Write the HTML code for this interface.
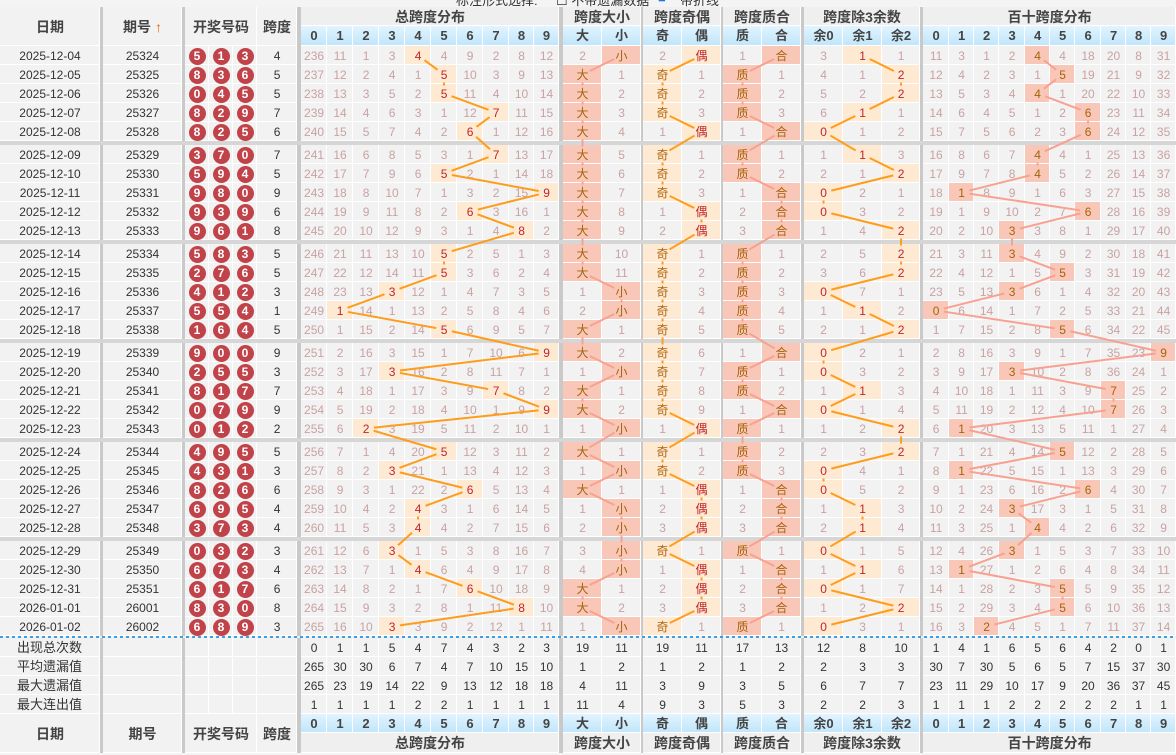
<!DOCTYPE html>
<html><head><meta charset="utf-8"><style>
body{margin:0;background:#f4f4f4;width:1176px;height:755px;overflow:hidden;font-family:"Liberation Sans","Noto Sans CJK SC",sans-serif}
#top{position:absolute;left:0;top:0;width:1176px;height:7px;overflow:hidden;font-size:13px;color:#333}
#top span{position:absolute;top:-10px;white-space:nowrap}
#wrap{position:absolute;left:0;top:7px;width:1176px}
table{border-collapse:separate;border-spacing:0;table-layout:fixed;width:1176px}
td{padding:0;text-align:center;font-size:12px;height:19px;line-height:18px;background:#f2f2f2;box-shadow:inset -1px -1px 0 #fff;overflow:hidden;white-space:nowrap;color:#333}
td.s{background:#c9c9c9;box-shadow:none}
.H td{font-weight:bold;color:#444}
.H .g{font-size:14px;background:#efefef}
.H .u{background:linear-gradient(#e2f4ff,#bfe5fa);font-size:13px}
.H .L{font-size:14px}
tr.r td{color:#c9a2a2}
tr.r td.k{color:#333}
td.q b{display:inline-block;width:17px;height:17px;border-radius:50%;background:#c1434a;color:#fff;font-size:12px;line-height:17px;margin-top:1px}
tr.r td.a{background:#fee9d2;color:#c0262a}
tr.r td.b{background:#f9c7b8;color:#a8620a}
tr.r td.c{background:#fee9d2;color:#b0650d}
tr.gs td{height:4px;background:#d6d6d6;box-shadow:none}
tr.dl td{height:2px;box-shadow:none;background:repeating-linear-gradient(90deg,#3d9ee0 0 3px,#f2f2f2 3px 6px)}
tr.st td{color:#333}
tr.st td.lb{font-size:13px;text-align:left;padding-left:17px}
svg{position:absolute;left:0;top:0;pointer-events:none}
</style></head><body>
<div id="top"><span style="left:456px">标注形式选择:</span><span style="left:556px">☐ 不带遗漏数据</span><span style="left:658px;color:#1a73e8">■</span><span style="left:680px">带折线</span></div>
<div id="wrap">
<table id="tb">
<colgroup><col style="width:100px"><col style="width:3px"><col style="width:79px"><col style="width:3px"><col style="width:24px"><col style="width:24px"><col style="width:24px"><col style="width:40px"><col style="width:4px"><col style="width:26px"><col style="width:26px"><col style="width:26px"><col style="width:26px"><col style="width:26px"><col style="width:26px"><col style="width:26px"><col style="width:26px"><col style="width:25px"><col style="width:25px"><col style="width:4px"><col style="width:39px"><col style="width:39px"><col style="width:2px"><col style="width:39px"><col style="width:39px"><col style="width:2px"><col style="width:39px"><col style="width:39px"><col style="width:3px"><col style="width:39px"><col style="width:39px"><col style="width:38px"><col style="width:3px"><col style="width:26px"><col style="width:25px"><col style="width:25px"><col style="width:26px"><col style="width:25px"><col style="width:25px"><col style="width:26px"><col style="width:25px"><col style="width:25px"><col style="width:25px"></colgroup>
<tr class="H"><td rowspan="2" class="L">日期</td><td rowspan="2" class="s"></td><td rowspan="2" class="L">期号 <span style="color:#e8650a">↑</span></td><td rowspan="2" class="s"></td><td rowspan="2" colspan="3" class="L">开奖号码</td><td rowspan="2" class="L">跨度</td><td rowspan="2" class="s"></td><td colspan="10" class="g">总跨度分布</td><td rowspan="2" class="s"></td><td colspan="2" class="g">跨度大小</td><td rowspan="2" class="s"></td><td colspan="2" class="g">跨度奇偶</td><td rowspan="2" class="s"></td><td colspan="2" class="g">跨度质合</td><td rowspan="2" class="s"></td><td colspan="3" class="g">跨度除3余数</td><td rowspan="2" class="s"></td><td colspan="10" class="g">百十跨度分布</td></tr>
<tr class="H" style="height:20px"><td class="u">0</td><td class="u">1</td><td class="u">2</td><td class="u">3</td><td class="u">4</td><td class="u">5</td><td class="u">6</td><td class="u">7</td><td class="u">8</td><td class="u">9</td><td class="u">大</td><td class="u">小</td><td class="u">奇</td><td class="u">偶</td><td class="u">质</td><td class="u">合</td><td class="u">余0</td><td class="u">余1</td><td class="u">余2</td><td class="u">0</td><td class="u">1</td><td class="u">2</td><td class="u">3</td><td class="u">4</td><td class="u">5</td><td class="u">6</td><td class="u">7</td><td class="u">8</td><td class="u">9</td></tr>

<tr class="r"><td class="k">2025-12-04</td><td class="s"></td><td class="k">25324</td><td class="s"></td><td class="q"><b>5</b></td><td class="q"><b>1</b></td><td class="q"><b>3</b></td><td class="k">4</td><td class="s"></td><td>236</td><td>11</td><td>1</td><td>3</td><td class="a t">4</td><td>4</td><td>9</td><td>2</td><td>8</td><td>12</td><td class="s"></td><td>2</td><td class="b z">小</td><td class="s"></td><td>2</td><td class="a j">偶</td><td class="s"></td><td>1</td><td class="b h">合</td><td class="s"></td><td>3</td><td class="a y">1</td><td>1</td><td class="s"></td><td>11</td><td>3</td><td>1</td><td>2</td><td class="b w">4</td><td>4</td><td>18</td><td>20</td><td>8</td><td>31</td></tr>
<tr class="r"><td class="k">2025-12-05</td><td class="s"></td><td class="k">25325</td><td class="s"></td><td class="q"><b>8</b></td><td class="q"><b>3</b></td><td class="q"><b>6</b></td><td class="k">5</td><td class="s"></td><td>237</td><td>12</td><td>2</td><td>4</td><td>1</td><td class="a t">5</td><td>10</td><td>3</td><td>9</td><td>13</td><td class="s"></td><td class="b z">大</td><td>1</td><td class="s"></td><td class="c j">奇</td><td>1</td><td class="s"></td><td class="b h">质</td><td>1</td><td class="s"></td><td>4</td><td>1</td><td class="a y">2</td><td class="s"></td><td>12</td><td>4</td><td>2</td><td>3</td><td>1</td><td class="b w">5</td><td>19</td><td>21</td><td>9</td><td>32</td></tr>
<tr class="r"><td class="k">2025-12-06</td><td class="s"></td><td class="k">25326</td><td class="s"></td><td class="q"><b>0</b></td><td class="q"><b>4</b></td><td class="q"><b>5</b></td><td class="k">5</td><td class="s"></td><td>238</td><td>13</td><td>3</td><td>5</td><td>2</td><td class="a t">5</td><td>11</td><td>4</td><td>10</td><td>14</td><td class="s"></td><td class="b z">大</td><td>2</td><td class="s"></td><td class="c j">奇</td><td>2</td><td class="s"></td><td class="b h">质</td><td>2</td><td class="s"></td><td>5</td><td>2</td><td class="a y">2</td><td class="s"></td><td>13</td><td>5</td><td>3</td><td>4</td><td class="b w">4</td><td>1</td><td>20</td><td>22</td><td>10</td><td>33</td></tr>
<tr class="r"><td class="k">2025-12-07</td><td class="s"></td><td class="k">25327</td><td class="s"></td><td class="q"><b>8</b></td><td class="q"><b>2</b></td><td class="q"><b>9</b></td><td class="k">7</td><td class="s"></td><td>239</td><td>14</td><td>4</td><td>6</td><td>3</td><td>1</td><td>12</td><td class="a t">7</td><td>11</td><td>15</td><td class="s"></td><td class="b z">大</td><td>3</td><td class="s"></td><td class="c j">奇</td><td>3</td><td class="s"></td><td class="b h">质</td><td>3</td><td class="s"></td><td>6</td><td class="a y">1</td><td>1</td><td class="s"></td><td>14</td><td>6</td><td>4</td><td>5</td><td>1</td><td>2</td><td class="b w">6</td><td>23</td><td>11</td><td>34</td></tr>
<tr class="r"><td class="k">2025-12-08</td><td class="s"></td><td class="k">25328</td><td class="s"></td><td class="q"><b>8</b></td><td class="q"><b>2</b></td><td class="q"><b>5</b></td><td class="k">6</td><td class="s"></td><td>240</td><td>15</td><td>5</td><td>7</td><td>4</td><td>2</td><td class="a t">6</td><td>1</td><td>12</td><td>16</td><td class="s"></td><td class="b z">大</td><td>4</td><td class="s"></td><td>1</td><td class="a j">偶</td><td class="s"></td><td>1</td><td class="b h">合</td><td class="s"></td><td class="a y">0</td><td>1</td><td>2</td><td class="s"></td><td>15</td><td>7</td><td>5</td><td>6</td><td>2</td><td>3</td><td class="b w">6</td><td>24</td><td>12</td><td>35</td></tr>
<tr class="gs"><td colspan="43"></td></tr>
<tr class="r"><td class="k">2025-12-09</td><td class="s"></td><td class="k">25329</td><td class="s"></td><td class="q"><b>3</b></td><td class="q"><b>7</b></td><td class="q"><b>0</b></td><td class="k">7</td><td class="s"></td><td>241</td><td>16</td><td>6</td><td>8</td><td>5</td><td>3</td><td>1</td><td class="a t">7</td><td>13</td><td>17</td><td class="s"></td><td class="b z">大</td><td>5</td><td class="s"></td><td class="c j">奇</td><td>1</td><td class="s"></td><td class="b h">质</td><td>1</td><td class="s"></td><td>1</td><td class="a y">1</td><td>3</td><td class="s"></td><td>16</td><td>8</td><td>6</td><td>7</td><td class="b w">4</td><td>4</td><td>1</td><td>25</td><td>13</td><td>36</td></tr>
<tr class="r"><td class="k">2025-12-10</td><td class="s"></td><td class="k">25330</td><td class="s"></td><td class="q"><b>5</b></td><td class="q"><b>9</b></td><td class="q"><b>4</b></td><td class="k">5</td><td class="s"></td><td>242</td><td>17</td><td>7</td><td>9</td><td>6</td><td class="a t">5</td><td>2</td><td>1</td><td>14</td><td>18</td><td class="s"></td><td class="b z">大</td><td>6</td><td class="s"></td><td class="c j">奇</td><td>2</td><td class="s"></td><td class="b h">质</td><td>2</td><td class="s"></td><td>2</td><td>1</td><td class="a y">2</td><td class="s"></td><td>17</td><td>9</td><td>7</td><td>8</td><td class="b w">4</td><td>5</td><td>2</td><td>26</td><td>14</td><td>37</td></tr>
<tr class="r"><td class="k">2025-12-11</td><td class="s"></td><td class="k">25331</td><td class="s"></td><td class="q"><b>9</b></td><td class="q"><b>8</b></td><td class="q"><b>0</b></td><td class="k">9</td><td class="s"></td><td>243</td><td>18</td><td>8</td><td>10</td><td>7</td><td>1</td><td>3</td><td>2</td><td>15</td><td class="a t">9</td><td class="s"></td><td class="b z">大</td><td>7</td><td class="s"></td><td class="c j">奇</td><td>3</td><td class="s"></td><td>1</td><td class="b h">合</td><td class="s"></td><td class="a y">0</td><td>2</td><td>1</td><td class="s"></td><td>18</td><td class="b w">1</td><td>8</td><td>9</td><td>1</td><td>6</td><td>3</td><td>27</td><td>15</td><td>38</td></tr>
<tr class="r"><td class="k">2025-12-12</td><td class="s"></td><td class="k">25332</td><td class="s"></td><td class="q"><b>9</b></td><td class="q"><b>3</b></td><td class="q"><b>9</b></td><td class="k">6</td><td class="s"></td><td>244</td><td>19</td><td>9</td><td>11</td><td>8</td><td>2</td><td class="a t">6</td><td>3</td><td>16</td><td>1</td><td class="s"></td><td class="b z">大</td><td>8</td><td class="s"></td><td>1</td><td class="a j">偶</td><td class="s"></td><td>2</td><td class="b h">合</td><td class="s"></td><td class="a y">0</td><td>3</td><td>2</td><td class="s"></td><td>19</td><td>1</td><td>9</td><td>10</td><td>2</td><td>7</td><td class="b w">6</td><td>28</td><td>16</td><td>39</td></tr>
<tr class="r"><td class="k">2025-12-13</td><td class="s"></td><td class="k">25333</td><td class="s"></td><td class="q"><b>9</b></td><td class="q"><b>6</b></td><td class="q"><b>1</b></td><td class="k">8</td><td class="s"></td><td>245</td><td>20</td><td>10</td><td>12</td><td>9</td><td>3</td><td>1</td><td>4</td><td class="a t">8</td><td>2</td><td class="s"></td><td class="b z">大</td><td>9</td><td class="s"></td><td>2</td><td class="a j">偶</td><td class="s"></td><td>3</td><td class="b h">合</td><td class="s"></td><td>1</td><td>4</td><td class="a y">2</td><td class="s"></td><td>20</td><td>2</td><td>10</td><td class="b w">3</td><td>3</td><td>8</td><td>1</td><td>29</td><td>17</td><td>40</td></tr>
<tr class="gs"><td colspan="43"></td></tr>
<tr class="r"><td class="k">2025-12-14</td><td class="s"></td><td class="k">25334</td><td class="s"></td><td class="q"><b>5</b></td><td class="q"><b>8</b></td><td class="q"><b>3</b></td><td class="k">5</td><td class="s"></td><td>246</td><td>21</td><td>11</td><td>13</td><td>10</td><td class="a t">5</td><td>2</td><td>5</td><td>1</td><td>3</td><td class="s"></td><td class="b z">大</td><td>10</td><td class="s"></td><td class="c j">奇</td><td>1</td><td class="s"></td><td class="b h">质</td><td>1</td><td class="s"></td><td>2</td><td>5</td><td class="a y">2</td><td class="s"></td><td>21</td><td>3</td><td>11</td><td class="b w">3</td><td>4</td><td>9</td><td>2</td><td>30</td><td>18</td><td>41</td></tr>
<tr class="r"><td class="k">2025-12-15</td><td class="s"></td><td class="k">25335</td><td class="s"></td><td class="q"><b>2</b></td><td class="q"><b>7</b></td><td class="q"><b>6</b></td><td class="k">5</td><td class="s"></td><td>247</td><td>22</td><td>12</td><td>14</td><td>11</td><td class="a t">5</td><td>3</td><td>6</td><td>2</td><td>4</td><td class="s"></td><td class="b z">大</td><td>11</td><td class="s"></td><td class="c j">奇</td><td>2</td><td class="s"></td><td class="b h">质</td><td>2</td><td class="s"></td><td>3</td><td>6</td><td class="a y">2</td><td class="s"></td><td>22</td><td>4</td><td>12</td><td>1</td><td>5</td><td class="b w">5</td><td>3</td><td>31</td><td>19</td><td>42</td></tr>
<tr class="r"><td class="k">2025-12-16</td><td class="s"></td><td class="k">25336</td><td class="s"></td><td class="q"><b>4</b></td><td class="q"><b>1</b></td><td class="q"><b>2</b></td><td class="k">3</td><td class="s"></td><td>248</td><td>23</td><td>13</td><td class="a t">3</td><td>12</td><td>1</td><td>4</td><td>7</td><td>3</td><td>5</td><td class="s"></td><td>1</td><td class="b z">小</td><td class="s"></td><td class="c j">奇</td><td>3</td><td class="s"></td><td class="b h">质</td><td>3</td><td class="s"></td><td class="a y">0</td><td>7</td><td>1</td><td class="s"></td><td>23</td><td>5</td><td>13</td><td class="b w">3</td><td>6</td><td>1</td><td>4</td><td>32</td><td>20</td><td>43</td></tr>
<tr class="r"><td class="k">2025-12-17</td><td class="s"></td><td class="k">25337</td><td class="s"></td><td class="q"><b>5</b></td><td class="q"><b>5</b></td><td class="q"><b>4</b></td><td class="k">1</td><td class="s"></td><td>249</td><td class="a t">1</td><td>14</td><td>1</td><td>13</td><td>2</td><td>5</td><td>8</td><td>4</td><td>6</td><td class="s"></td><td>2</td><td class="b z">小</td><td class="s"></td><td class="c j">奇</td><td>4</td><td class="s"></td><td class="b h">质</td><td>4</td><td class="s"></td><td>1</td><td class="a y">1</td><td>2</td><td class="s"></td><td class="b w">0</td><td>6</td><td>14</td><td>1</td><td>7</td><td>2</td><td>5</td><td>33</td><td>21</td><td>44</td></tr>
<tr class="r"><td class="k">2025-12-18</td><td class="s"></td><td class="k">25338</td><td class="s"></td><td class="q"><b>1</b></td><td class="q"><b>6</b></td><td class="q"><b>4</b></td><td class="k">5</td><td class="s"></td><td>250</td><td>1</td><td>15</td><td>2</td><td>14</td><td class="a t">5</td><td>6</td><td>9</td><td>5</td><td>7</td><td class="s"></td><td class="b z">大</td><td>1</td><td class="s"></td><td class="c j">奇</td><td>5</td><td class="s"></td><td class="b h">质</td><td>5</td><td class="s"></td><td>2</td><td>1</td><td class="a y">2</td><td class="s"></td><td>1</td><td>7</td><td>15</td><td>2</td><td>8</td><td class="b w">5</td><td>6</td><td>34</td><td>22</td><td>45</td></tr>
<tr class="gs"><td colspan="43"></td></tr>
<tr class="r"><td class="k">2025-12-19</td><td class="s"></td><td class="k">25339</td><td class="s"></td><td class="q"><b>9</b></td><td class="q"><b>0</b></td><td class="q"><b>0</b></td><td class="k">9</td><td class="s"></td><td>251</td><td>2</td><td>16</td><td>3</td><td>15</td><td>1</td><td>7</td><td>10</td><td>6</td><td class="a t">9</td><td class="s"></td><td class="b z">大</td><td>2</td><td class="s"></td><td class="c j">奇</td><td>6</td><td class="s"></td><td>1</td><td class="b h">合</td><td class="s"></td><td class="a y">0</td><td>2</td><td>1</td><td class="s"></td><td>2</td><td>8</td><td>16</td><td>3</td><td>9</td><td>1</td><td>7</td><td>35</td><td>23</td><td class="b w">9</td></tr>
<tr class="r"><td class="k">2025-12-20</td><td class="s"></td><td class="k">25340</td><td class="s"></td><td class="q"><b>2</b></td><td class="q"><b>5</b></td><td class="q"><b>5</b></td><td class="k">3</td><td class="s"></td><td>252</td><td>3</td><td>17</td><td class="a t">3</td><td>16</td><td>2</td><td>8</td><td>11</td><td>7</td><td>1</td><td class="s"></td><td>1</td><td class="b z">小</td><td class="s"></td><td class="c j">奇</td><td>7</td><td class="s"></td><td class="b h">质</td><td>1</td><td class="s"></td><td class="a y">0</td><td>3</td><td>2</td><td class="s"></td><td>3</td><td>9</td><td>17</td><td class="b w">3</td><td>10</td><td>2</td><td>8</td><td>36</td><td>24</td><td>1</td></tr>
<tr class="r"><td class="k">2025-12-21</td><td class="s"></td><td class="k">25341</td><td class="s"></td><td class="q"><b>8</b></td><td class="q"><b>1</b></td><td class="q"><b>7</b></td><td class="k">7</td><td class="s"></td><td>253</td><td>4</td><td>18</td><td>1</td><td>17</td><td>3</td><td>9</td><td class="a t">7</td><td>8</td><td>2</td><td class="s"></td><td class="b z">大</td><td>1</td><td class="s"></td><td class="c j">奇</td><td>8</td><td class="s"></td><td class="b h">质</td><td>2</td><td class="s"></td><td>1</td><td class="a y">1</td><td>3</td><td class="s"></td><td>4</td><td>10</td><td>18</td><td>1</td><td>11</td><td>3</td><td>9</td><td class="b w">7</td><td>25</td><td>2</td></tr>
<tr class="r"><td class="k">2025-12-22</td><td class="s"></td><td class="k">25342</td><td class="s"></td><td class="q"><b>0</b></td><td class="q"><b>7</b></td><td class="q"><b>9</b></td><td class="k">9</td><td class="s"></td><td>254</td><td>5</td><td>19</td><td>2</td><td>18</td><td>4</td><td>10</td><td>1</td><td>9</td><td class="a t">9</td><td class="s"></td><td class="b z">大</td><td>2</td><td class="s"></td><td class="c j">奇</td><td>9</td><td class="s"></td><td>1</td><td class="b h">合</td><td class="s"></td><td class="a y">0</td><td>1</td><td>4</td><td class="s"></td><td>5</td><td>11</td><td>19</td><td>2</td><td>12</td><td>4</td><td>10</td><td class="b w">7</td><td>26</td><td>3</td></tr>
<tr class="r"><td class="k">2025-12-23</td><td class="s"></td><td class="k">25343</td><td class="s"></td><td class="q"><b>0</b></td><td class="q"><b>1</b></td><td class="q"><b>2</b></td><td class="k">2</td><td class="s"></td><td>255</td><td>6</td><td class="a t">2</td><td>3</td><td>19</td><td>5</td><td>11</td><td>2</td><td>10</td><td>1</td><td class="s"></td><td>1</td><td class="b z">小</td><td class="s"></td><td>1</td><td class="a j">偶</td><td class="s"></td><td class="b h">质</td><td>1</td><td class="s"></td><td>1</td><td>2</td><td class="a y">2</td><td class="s"></td><td>6</td><td class="b w">1</td><td>20</td><td>3</td><td>13</td><td>5</td><td>11</td><td>1</td><td>27</td><td>4</td></tr>
<tr class="gs"><td colspan="43"></td></tr>
<tr class="r"><td class="k">2025-12-24</td><td class="s"></td><td class="k">25344</td><td class="s"></td><td class="q"><b>4</b></td><td class="q"><b>9</b></td><td class="q"><b>5</b></td><td class="k">5</td><td class="s"></td><td>256</td><td>7</td><td>1</td><td>4</td><td>20</td><td class="a t">5</td><td>12</td><td>3</td><td>11</td><td>2</td><td class="s"></td><td class="b z">大</td><td>1</td><td class="s"></td><td class="c j">奇</td><td>1</td><td class="s"></td><td class="b h">质</td><td>2</td><td class="s"></td><td>2</td><td>3</td><td class="a y">2</td><td class="s"></td><td>7</td><td>1</td><td>21</td><td>4</td><td>14</td><td class="b w">5</td><td>12</td><td>2</td><td>28</td><td>5</td></tr>
<tr class="r"><td class="k">2025-12-25</td><td class="s"></td><td class="k">25345</td><td class="s"></td><td class="q"><b>4</b></td><td class="q"><b>3</b></td><td class="q"><b>1</b></td><td class="k">3</td><td class="s"></td><td>257</td><td>8</td><td>2</td><td class="a t">3</td><td>21</td><td>1</td><td>13</td><td>4</td><td>12</td><td>3</td><td class="s"></td><td>1</td><td class="b z">小</td><td class="s"></td><td class="c j">奇</td><td>2</td><td class="s"></td><td class="b h">质</td><td>3</td><td class="s"></td><td class="a y">0</td><td>4</td><td>1</td><td class="s"></td><td>8</td><td class="b w">1</td><td>22</td><td>5</td><td>15</td><td>1</td><td>13</td><td>3</td><td>29</td><td>6</td></tr>
<tr class="r"><td class="k">2025-12-26</td><td class="s"></td><td class="k">25346</td><td class="s"></td><td class="q"><b>8</b></td><td class="q"><b>2</b></td><td class="q"><b>6</b></td><td class="k">6</td><td class="s"></td><td>258</td><td>9</td><td>3</td><td>1</td><td>22</td><td>2</td><td class="a t">6</td><td>5</td><td>13</td><td>4</td><td class="s"></td><td class="b z">大</td><td>1</td><td class="s"></td><td>1</td><td class="a j">偶</td><td class="s"></td><td>1</td><td class="b h">合</td><td class="s"></td><td class="a y">0</td><td>5</td><td>2</td><td class="s"></td><td>9</td><td>1</td><td>23</td><td>6</td><td>16</td><td>2</td><td class="b w">6</td><td>4</td><td>30</td><td>7</td></tr>
<tr class="r"><td class="k">2025-12-27</td><td class="s"></td><td class="k">25347</td><td class="s"></td><td class="q"><b>6</b></td><td class="q"><b>9</b></td><td class="q"><b>5</b></td><td class="k">4</td><td class="s"></td><td>259</td><td>10</td><td>4</td><td>2</td><td class="a t">4</td><td>3</td><td>1</td><td>6</td><td>14</td><td>5</td><td class="s"></td><td>1</td><td class="b z">小</td><td class="s"></td><td>2</td><td class="a j">偶</td><td class="s"></td><td>2</td><td class="b h">合</td><td class="s"></td><td>1</td><td class="a y">1</td><td>3</td><td class="s"></td><td>10</td><td>2</td><td>24</td><td class="b w">3</td><td>17</td><td>3</td><td>1</td><td>5</td><td>31</td><td>8</td></tr>
<tr class="r"><td class="k">2025-12-28</td><td class="s"></td><td class="k">25348</td><td class="s"></td><td class="q"><b>3</b></td><td class="q"><b>7</b></td><td class="q"><b>3</b></td><td class="k">4</td><td class="s"></td><td>260</td><td>11</td><td>5</td><td>3</td><td class="a t">4</td><td>4</td><td>2</td><td>7</td><td>15</td><td>6</td><td class="s"></td><td>2</td><td class="b z">小</td><td class="s"></td><td>3</td><td class="a j">偶</td><td class="s"></td><td>3</td><td class="b h">合</td><td class="s"></td><td>2</td><td class="a y">1</td><td>4</td><td class="s"></td><td>11</td><td>3</td><td>25</td><td>1</td><td class="b w">4</td><td>4</td><td>2</td><td>6</td><td>32</td><td>9</td></tr>
<tr class="gs"><td colspan="43"></td></tr>
<tr class="r"><td class="k">2025-12-29</td><td class="s"></td><td class="k">25349</td><td class="s"></td><td class="q"><b>0</b></td><td class="q"><b>3</b></td><td class="q"><b>2</b></td><td class="k">3</td><td class="s"></td><td>261</td><td>12</td><td>6</td><td class="a t">3</td><td>1</td><td>5</td><td>3</td><td>8</td><td>16</td><td>7</td><td class="s"></td><td>3</td><td class="b z">小</td><td class="s"></td><td class="c j">奇</td><td>1</td><td class="s"></td><td class="b h">质</td><td>1</td><td class="s"></td><td class="a y">0</td><td>1</td><td>5</td><td class="s"></td><td>12</td><td>4</td><td>26</td><td class="b w">3</td><td>1</td><td>5</td><td>3</td><td>7</td><td>33</td><td>10</td></tr>
<tr class="r"><td class="k">2025-12-30</td><td class="s"></td><td class="k">25350</td><td class="s"></td><td class="q"><b>6</b></td><td class="q"><b>7</b></td><td class="q"><b>3</b></td><td class="k">4</td><td class="s"></td><td>262</td><td>13</td><td>7</td><td>1</td><td class="a t">4</td><td>6</td><td>4</td><td>9</td><td>17</td><td>8</td><td class="s"></td><td>4</td><td class="b z">小</td><td class="s"></td><td>1</td><td class="a j">偶</td><td class="s"></td><td>1</td><td class="b h">合</td><td class="s"></td><td>1</td><td class="a y">1</td><td>6</td><td class="s"></td><td>13</td><td class="b w">1</td><td>27</td><td>1</td><td>2</td><td>6</td><td>4</td><td>8</td><td>34</td><td>11</td></tr>
<tr class="r"><td class="k">2025-12-31</td><td class="s"></td><td class="k">25351</td><td class="s"></td><td class="q"><b>6</b></td><td class="q"><b>1</b></td><td class="q"><b>7</b></td><td class="k">6</td><td class="s"></td><td>263</td><td>14</td><td>8</td><td>2</td><td>1</td><td>7</td><td class="a t">6</td><td>10</td><td>18</td><td>9</td><td class="s"></td><td class="b z">大</td><td>1</td><td class="s"></td><td>2</td><td class="a j">偶</td><td class="s"></td><td>2</td><td class="b h">合</td><td class="s"></td><td class="a y">0</td><td>1</td><td>7</td><td class="s"></td><td>14</td><td>1</td><td>28</td><td>2</td><td>3</td><td class="b w">5</td><td>5</td><td>9</td><td>35</td><td>12</td></tr>
<tr class="r"><td class="k">2026-01-01</td><td class="s"></td><td class="k">26001</td><td class="s"></td><td class="q"><b>8</b></td><td class="q"><b>3</b></td><td class="q"><b>0</b></td><td class="k">8</td><td class="s"></td><td>264</td><td>15</td><td>9</td><td>3</td><td>2</td><td>8</td><td>1</td><td>11</td><td class="a t">8</td><td>10</td><td class="s"></td><td class="b z">大</td><td>2</td><td class="s"></td><td>3</td><td class="a j">偶</td><td class="s"></td><td>3</td><td class="b h">合</td><td class="s"></td><td>1</td><td>2</td><td class="a y">2</td><td class="s"></td><td>15</td><td>2</td><td>29</td><td>3</td><td>4</td><td class="b w">5</td><td>6</td><td>10</td><td>36</td><td>13</td></tr>
<tr class="r"><td class="k">2026-01-02</td><td class="s"></td><td class="k">26002</td><td class="s"></td><td class="q"><b>6</b></td><td class="q"><b>8</b></td><td class="q"><b>9</b></td><td class="k">3</td><td class="s"></td><td>265</td><td>16</td><td>10</td><td class="a t">3</td><td>3</td><td>9</td><td>2</td><td>12</td><td>1</td><td>11</td><td class="s"></td><td>1</td><td class="b z">小</td><td class="s"></td><td class="c j">奇</td><td>1</td><td class="s"></td><td class="b h">质</td><td>1</td><td class="s"></td><td class="a y">0</td><td>3</td><td>1</td><td class="s"></td><td>16</td><td>3</td><td class="b w">2</td><td>4</td><td>5</td><td>1</td><td>7</td><td>11</td><td>37</td><td>14</td></tr>
<tr class="dl"><td colspan="43"></td></tr>
<tr class="st"><td class="lb">出现总次数</td><td class="s"></td><td></td><td class="s"></td><td></td><td></td><td></td><td></td><td class="s"></td><td>0</td><td>1</td><td>1</td><td>5</td><td>4</td><td>7</td><td>4</td><td>3</td><td>2</td><td>3</td><td class="s"></td><td>19</td><td>11</td><td class="s"></td><td>19</td><td>11</td><td class="s"></td><td>17</td><td>13</td><td class="s"></td><td>12</td><td>8</td><td>10</td><td class="s"></td><td>1</td><td>4</td><td>1</td><td>6</td><td>5</td><td>6</td><td>4</td><td>2</td><td>0</td><td>1</td></tr>
<tr class="st"><td class="lb">平均遗漏值</td><td class="s"></td><td></td><td class="s"></td><td></td><td></td><td></td><td></td><td class="s"></td><td>265</td><td>30</td><td>30</td><td>6</td><td>7</td><td>4</td><td>7</td><td>10</td><td>15</td><td>10</td><td class="s"></td><td>1</td><td>2</td><td class="s"></td><td>1</td><td>2</td><td class="s"></td><td>1</td><td>2</td><td class="s"></td><td>2</td><td>3</td><td>3</td><td class="s"></td><td>30</td><td>7</td><td>30</td><td>5</td><td>6</td><td>5</td><td>7</td><td>15</td><td>37</td><td>30</td></tr>
<tr class="st"><td class="lb">最大遗漏值</td><td class="s"></td><td></td><td class="s"></td><td></td><td></td><td></td><td></td><td class="s"></td><td>265</td><td>23</td><td>19</td><td>14</td><td>22</td><td>9</td><td>13</td><td>12</td><td>18</td><td>18</td><td class="s"></td><td>4</td><td>11</td><td class="s"></td><td>3</td><td>9</td><td class="s"></td><td>3</td><td>5</td><td class="s"></td><td>6</td><td>7</td><td>7</td><td class="s"></td><td>23</td><td>11</td><td>29</td><td>10</td><td>17</td><td>9</td><td>20</td><td>36</td><td>37</td><td>45</td></tr>
<tr class="st"><td class="lb">最大连出值</td><td class="s"></td><td></td><td class="s"></td><td></td><td></td><td></td><td></td><td class="s"></td><td>1</td><td>1</td><td>1</td><td>1</td><td>2</td><td>2</td><td>1</td><td>1</td><td>1</td><td>1</td><td class="s"></td><td>11</td><td>4</td><td class="s"></td><td>9</td><td>3</td><td class="s"></td><td>5</td><td>3</td><td class="s"></td><td>2</td><td>2</td><td>3</td><td class="s"></td><td>1</td><td>1</td><td>1</td><td>2</td><td>2</td><td>2</td><td>2</td><td>2</td><td>1</td><td>1</td></tr>
<tr class="H"><td rowspan="2" class="L">日期</td><td rowspan="2" class="s"></td><td rowspan="2" class="L">期号</td><td rowspan="2" class="s"></td><td rowspan="2" colspan="3" class="L">开奖号码</td><td rowspan="2" class="L">跨度</td><td rowspan="2" class="s"></td><td class="u">0</td><td class="u">1</td><td class="u">2</td><td class="u">3</td><td class="u">4</td><td class="u">5</td><td class="u">6</td><td class="u">7</td><td class="u">8</td><td class="u">9</td><td rowspan="2" class="s"></td><td class="u">大</td><td class="u">小</td><td rowspan="2" class="s"></td><td class="u">奇</td><td class="u">偶</td><td rowspan="2" class="s"></td><td class="u">质</td><td class="u">合</td><td rowspan="2" class="s"></td><td class="u">余0</td><td class="u">余1</td><td class="u">余2</td><td rowspan="2" class="s"></td><td class="u">0</td><td class="u">1</td><td class="u">2</td><td class="u">3</td><td class="u">4</td><td class="u">5</td><td class="u">6</td><td class="u">7</td><td class="u">8</td><td class="u">9</td></tr>
<tr class="H" style="height:20px"><td colspan="10" class="g">总跨度分布</td><td colspan="2" class="g">跨度大小</td><td colspan="2" class="g">跨度奇偶</td><td colspan="2" class="g">跨度质合</td><td colspan="3" class="g">跨度除3余数</td><td colspan="10" class="g">百十跨度分布</td></tr>
</table>
<svg id="sv" width="1176" height="748"></svg>
</div>
<script>
(function(){
var wrap=document.getElementById('wrap').getBoundingClientRect();
var sv=document.getElementById('sv');var ns='http://www.w3.org/2000/svg';
var S={t:'#ff9c1a',j:'#ff9c1a',y:'#ff9c1a',z:'#f8a190',h:'#f8a190',w:'#f8a190'};
for(var k in S){var cs=document.querySelectorAll('td.'+k);var p=null;
for(var i=0;i<cs.length;i++){var r=cs[i].getBoundingClientRect();var c=[r.left+r.width/2-wrap.left,r.top+r.height/2-wrap.top];
if(p){var dx=c[0]-p[0],dy=c[1]-p[1],L=Math.sqrt(dx*dx+dy*dy),t=8/L;
if(L>16){var l=document.createElementNS(ns,'line');l.setAttribute('x1',p[0]+dx*t);l.setAttribute('y1',p[1]+dy*t);l.setAttribute('x2',c[0]-dx*t);l.setAttribute('y2',c[1]-dy*t);l.setAttribute('stroke',S[k]);l.setAttribute('stroke-width','2');sv.appendChild(l);}}
p=c;}}
})();
</script>
</body></html>
